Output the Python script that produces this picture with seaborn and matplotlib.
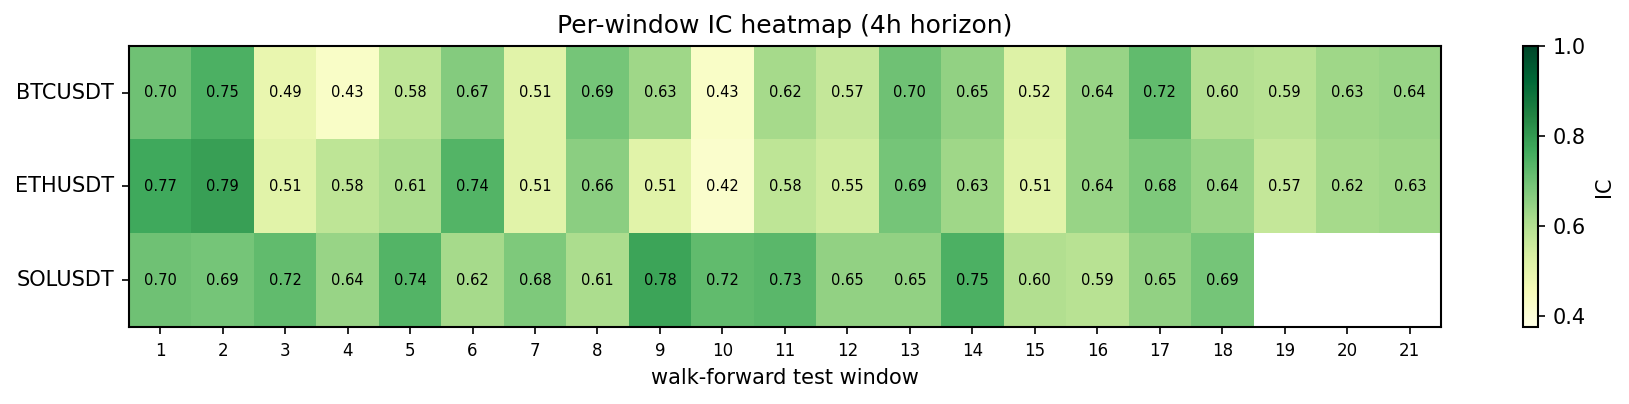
import numpy as np
import pandas as pd
import matplotlib
matplotlib.use("Agg")
import matplotlib.pyplot as plt
import seaborn as sns

symbols = ["BTCUSDT", "ETHUSDT", "SOLUSDT"]
windows = list(range(1, 22))
btc_ic = [0.70, 0.75, 0.49, 0.43, 0.58, 0.67, 0.51, 0.69, 0.63, 0.43, 0.62,
          0.57, 0.70, 0.65, 0.52, 0.64, 0.72, 0.60, 0.59, 0.63, 0.64]
eth_ic = [0.77, 0.79, 0.51, 0.58, 0.61, 0.74, 0.51, 0.66, 0.51, 0.42, 0.58,
          0.55, 0.69, 0.63, 0.51, 0.64, 0.68, 0.64, 0.57, 0.62, 0.63]
sol_ic = [0.70, 0.69, 0.72, 0.64, 0.74, 0.62, 0.68, 0.61, 0.78, 0.72, 0.73,
          0.65, 0.65, 0.75, 0.60, 0.59, 0.65, 0.69, np.nan, np.nan, np.nan]

df = pd.DataFrame([btc_ic, eth_ic, sol_ic], index=symbols, columns=windows)

fig = plt.figure(figsize=(1629 / 150, 404 / 150), dpi=150)
ax = fig.add_axes([0.0791, 0.1906, 0.8055, 0.6963])
cax = fig.add_axes([0.935, 0.1906, 0.0092, 0.6963])

sns.heatmap(df, ax=ax, cbar_ax=cax, cmap="YlGn", vmin=0.375, vmax=1.0,
            annot=True, fmt=".2f", annot_kws={"fontsize": 7, "color": "black"},
            cbar_kws={"label": "IC"})

for s in ax.spines.values():
    s.set_visible(True)
    s.set_linewidth(1.0)
    s.set_color("black")

ax.set_title("Per-window IC heatmap (4h horizon)", fontsize=12)
ax.set_xlabel("walk-forward test window", fontsize=10)
ax.set_ylabel("")
ax.tick_params(axis="x", labelsize=8, rotation=0, length=3.5)
ax.tick_params(axis="y", labelsize=10, rotation=0, length=3.5)
ax.set_yticklabels(symbols, rotation=0)

cb = ax.collections[0].colorbar
cb.outline.set_visible(True)
cb.outline.set_linewidth(1.0)
cb.outline.set_edgecolor("black")
cb.set_ticks([0.4, 0.6, 0.8, 1.0])
cb.ax.tick_params(labelsize=10)
cb.set_label("IC", fontsize=10)

fig.savefig("out.png", dpi=150)
